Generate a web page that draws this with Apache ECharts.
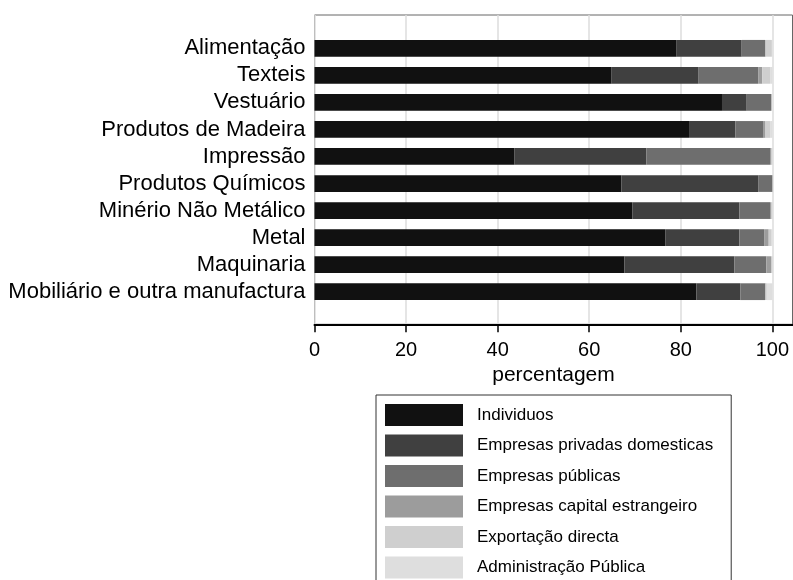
<!DOCTYPE html>
<html><head><meta charset="utf-8">
<script src="https://cdn.jsdelivr.net/npm/echarts@6/dist/echarts.min.js"></script>
<style>html,body{margin:0;padding:0;background:#fff}#c{width:793px;height:580px}</style>
</head><body><div id="c"></div>
<script>
const categories = ["Alimentação","Texteis","Vestuário","Produtos de Madeira","Impressão","Produtos Químicos","Minério Não Metálico","Metal","Maquinaria","Mobiliário e outra manufactura"];
const individuos      = [79.1, 64.9, 89.0, 81.8, 43.7, 67.0, 69.4, 76.6, 67.7, 83.4];
const privadas        = [14.2, 19.0,  5.4, 10.1, 28.8, 29.9, 23.4, 16.2, 24.0,  9.6];
const publicas        = [ 5.2, 13.0,  5.4,  6.2, 27.0,  3.1,  6.7,  5.4,  7.0,  5.5];
const estrangeiro     = [ 0.0,  0.9,  0.0,  0.4,  0.3,  0.0,  0.3,  1.0,  1.0,  0.0];
const exportacao      = [ 1.4,  1.7,  0.0,  1.0,  0.2,  0.0,  0.2,  0.5,  0.3,  0.3];
const administracao   = [ 0.1,  0.5,  0.0,  0.5,  0.0,  0.0,  0.0,  0.3,  0.0,  1.2];
const seriesNames = ["Individuos","Empresas privadas domesticas","Empresas públicas","Empresas capital estrangeiro","Exportação directa","Administração Pública"];
const seriesData = [individuos, privadas, publicas, estrangeiro, exportacao, administracao];
const seriesColors = ["#111111","#404040","#6e6e6e","#9c9c9c","#cfcfcf","#dedede"];
const xTicks = [0, 20, 40, 60, 80, 100];

const FONT = "'Liberation Sans', Arial, sans-serif";
const chart = echarts.init(document.getElementById('c'), null, {renderer: 'canvas'});
const XMAX = 104.4;
chart.setOption({
  animation: false,
  backgroundColor: '#fff',
  textStyle: {fontFamily: FONT},
  grid: [
    {left: 314.5, top: 15, width: 478, height: 309.3, show: true, borderColor: '#666', borderWidth: 1, backgroundColor: 'transparent'},
    {left: 314.5, top: 34.8, width: 478, height: 270.4}
  ],
  xAxis: [
    {gridIndex: 0, type: 'value', min: 0, max: XMAX,
     name: 'percentagem', nameLocation: 'middle', nameGap: 34,
     nameTextStyle: {fontSize: 21, color: '#000', fontFamily: FONT},
     axisLine: {show: true, lineStyle: {color: '#000', width: 2}},
     axisTick: {show: true, length: 8, customValues: xTicks, lineStyle: {color: '#000', width: 1.5}},
     axisLabel: {customValues: xTicks, fontSize: 20, color: '#000', margin: 16, fontFamily: FONT},
     splitLine: {show: true, lineStyle: {color: '#dcdcdc', width: 1.5}}},
    {gridIndex: 1, type: 'value', min: 0, max: XMAX, show: false, splitLine: {show: false}}
  ],
  yAxis: [
    {gridIndex: 0, type: 'value', show: false, splitLine: {show: false}},
    {gridIndex: 1, type: 'category', data: categories, inverse: true,
     axisLine: {show: false}, axisTick: {show: false}, splitLine: {show: false},
     axisLabel: {interval: 0, fontSize: 22, color: '#000', margin: 9, fontFamily: FONT}}
  ],
  legend: {
    type: 'plain', orient: 'vertical', left: 376, top: 395, height: 400, selectedMode: false,
    itemWidth: 78, itemHeight: 22, itemGap: 8.5, icon: 'rect',
    padding: [9, 18, 9, 9], borderColor: '#333', borderWidth: 1,
    textStyle: {fontSize: 17, color: '#000', fontFamily: FONT, padding: [0, 0, 0, 9]},
    data: seriesNames
  },
  series: seriesNames.map((n, i) => ({
    name: n, type: 'bar', stack: 'total', xAxisIndex: 1, yAxisIndex: 1,
    barCategoryGap: '38%', data: seriesData[i],
    itemStyle: {color: seriesColors[i]}
  }))
});
</script></body></html>
